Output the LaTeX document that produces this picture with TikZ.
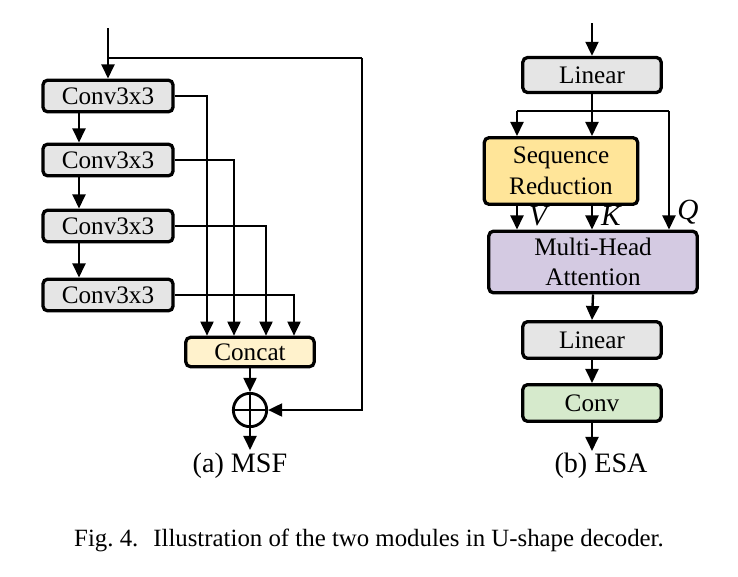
\documentclass[tikz,border=0pt]{standalone}
\usepackage{fontspec}
\setmainfont{Liberation Serif}
\usepackage{xcolor}
\usetikzlibrary{arrows.meta,positioning,calc}

\definecolor{convgray}{RGB}{229,229,229}
\definecolor{catyellow}{RGB}{255,242,204}
\definecolor{sryellow}{RGB}{255,229,153}
\definecolor{mhapurple}{RGB}{212,202,226}
\definecolor{convgreen}{RGB}{214,234,204}

\begin{document}
\begin{tikzpicture}[
    x=0.03cm, y=-0.03cm,
    >={Triangle[width=11pt,length=12pt]},
    line width=2pt,
    blk/.style={draw, line width=2.8pt, rounded corners=4pt, align=center, inner sep=0pt,
        font=\fontsize{21.5}{26}\selectfont},
    convblk/.style={blk, fill=convgray, minimum width=3.9cm, minimum height=0.95cm},
    sub/.style={font=\fontsize{24}{28}\selectfont},
    qkv/.style={font=\fontsize{25}{28}\selectfont\itshape}
]
\useasboundingbox (0,0) rectangle (738,576);

% (a) MSF
\coordinate (inA) at (108,28);
\coordinate (split) at (108,58);
\node[convblk] (c1) at (108,96) {Conv3x3};
\node[convblk] (c2) at (108,160) {Conv3x3};
\node[convblk] (c3) at (108,226) {Conv3x3};
\node[convblk] (c4) at (108,295) {Conv3x3};
\node[blk, fill=catyellow, minimum width=3.85cm, minimum height=0.88cm] (cat) at (250,352) {Concat};
\node[draw, circle, line width=2.4pt, minimum size=1cm, inner sep=0pt] (plus) at (250,410) {};
\draw[line width=2.4pt] (plus.north) -- (plus.south) (plus.west) -- (plus.east);
\coordinate (outA) at (250,450);

\draw[->] (inA) -- (c1.north);
\draw (split) -- ++(254,0) coordinate (sk);
\draw[->] (sk) |- (plus.east);
\draw[->] ([xshift=-0.87cm]c1.south) -- ([xshift=-0.87cm]c2.north);
\draw[->] ([xshift=-0.87cm]c2.south) -- ([xshift=-0.87cm]c3.north);
\draw[->] ([xshift=-0.87cm]c3.south) -- ([xshift=-0.87cm]c4.north);
\foreach \src/\dx in {c1/-43, c2/-16, c3/16, c4/44}
    \draw[->] (\src.east) -| ([xshift=\dx*0.03cm]cat.north);
\draw[->] (cat.south) -- (plus.north);
\draw[->] (plus.south) -- (outA);
\node[sub] (labA) at (240,466) {(a) MSF};

% (b) ESA
\coordinate (inB) at (592,23);
\node[blk, fill=convgray, minimum width=4.15cm, minimum height=1.05cm] (lin1) at (592,75) {Linear};
\coordinate (fork) at (592,111);
\coordinate (vfork) at (517,111);
\coordinate (qfork) at (669,111);
\node[blk, fill=sryellow, minimum width=4.6cm, minimum height=2cm] (sr) at (561,171) {Sequence\\Reduction};
\node[blk, fill=mhapurple, minimum width=6.25cm, minimum height=1.85cm] (mha) at (593,262) {Multi-Head\\Attention};
\node[blk, fill=convgray, minimum width=4.15cm, minimum height=1.1cm] (lin2) at (592,340) {Linear};
\node[blk, fill=convgreen, minimum width=4.15cm, minimum height=1.1cm] (cv) at (592,403) {Conv};
\coordinate (outB) at (592,451);

\draw[->] (inB) -- (lin1.north);
\draw (lin1.south) -- (fork);
\draw (vfork) -- (qfork);
\draw[->] (vfork) -- (vfork |- sr.north);
\draw[->] (fork) -- (fork |- sr.north);
\draw[->] (qfork) -- (qfork |- mha.north);
\draw[->] (vfork |- sr.south) -- (vfork |- mha.north);
\draw[->] (fork |- sr.south) -- (fork |- mha.north);
\draw[->] (mha.south) -- (lin2.north);
\draw[->] (lin2.south) -- (cv.north);
\draw[->] (cv.south) -- (outB);
\node[qkv] (vl) at (538,216) {V};
\node[qkv] (kl) at (611,216) {K};
\node[qkv] (ql) at (688,212) {Q};
\node[sub] (labB) at (601,466) {(b) ESA};

% caption
\node[font=\fontsize{21.2}{25}\selectfont] (cap) at (369,540) {Fig.~4.\hspace{0.6em}Illustration of the two modules in U-shape decoder.};
\end{tikzpicture}
\end{document}
